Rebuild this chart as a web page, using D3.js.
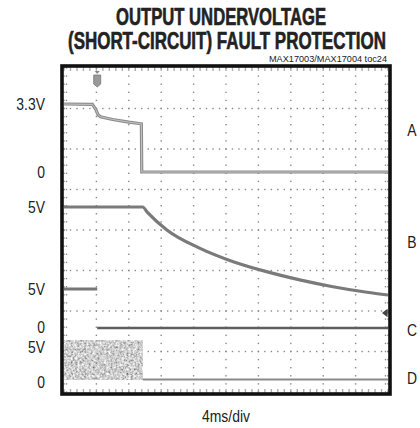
<!DOCTYPE html>
<html>
<head>
<meta charset="utf-8">
<script src="https://cdn.jsdelivr.net/npm/d3@7"></script>
<style>
  body { margin: 0; background: #fff; }
  text { font-family: "Liberation Sans", Arial, sans-serif; fill: #222; }
</style>
</head>
<body>
<svg id="chart"></svg>
<script>
// scope capture, time in ms (4ms/div, 10 div)
var timeA = [0, 3.5, 3.9, 4.2, 4.5, 6, 8, 9.55, 9.6, 40];
var voltA = [3.3, 3.28, 3.05, 2.78, 2.68, 2.55, 2.42, 2.34, 0, 0];

var timeB = [0, 9.7, 10.3, 12.7, 16.8, 20.9, 25.0, 29.1, 33.2, 37.4, 40];
var voltB = [5, 5, 4.75, 3.92, 3.05, 2.42, 1.95, 1.56, 1.24, 0.98, 0.85];

var timeC = [0, 4.1, 4.1, 40];
var voltC = [5, 5, 0, 0];

// D: switching node, a dense band 0..5V until shutdown
var timeDBand = [0, 9.75];
var voltDBand = [0, 5];
var timeD = [9.75, 40];
var voltD = [0.05, 0.05];

// labels sit a little off the exact trace levels in the original
var leftLabels = [
  {ch: "A", v: 3.3, text: "3.3V"}, {ch: "A", v: 0, text: "0"},
  {ch: "B", v: 5, text: "5V"},
  {ch: "C", v: 5, text: "5V"}, {ch: "C", v: 0.2, text: "0"},
  {ch: "D", v: 4.2, text: "5V"}, {ch: "D", v: -0.2, text: "0"}
];
var channels = ["A", "B", "C", "D"];

var W = 420, H = 428;
var plot = {left: 64, right: 388, top: 68, bottom: 392};

var svg = d3.select("#chart").attr("width", W).attr("height", H);

var x = d3.scaleLinear().domain([0, 40]).range([plot.left, plot.right]);
var xDiv = d3.scaleLinear().domain([0, 10]).range([plot.left, plot.right]);
var yDiv = d3.scaleLinear().domain([0, 8]).range([plot.top, plot.bottom]);

// one vertical scale per channel
var yCh = {
  A: d3.scaleLinear().domain([0, 3.3]).range([172, 104]),
  B: d3.scaleLinear().domain([0, 5]).range([313, 207]),
  C: d3.scaleLinear().domain([0, 5]).range([328, 289]),
  D: d3.scaleLinear().domain([0, 5]).range([380, 340])
};

var defs = svg.append("defs");
var f = defs.append("filter").attr("id", "speckle")
    .attr("x", 0).attr("y", 0).attr("width", 1).attr("height", 1);
f.append("feTurbulence").attr("type", "fractalNoise").attr("baseFrequency", 0.45)
    .attr("numOctaves", 2).attr("seed", 5).attr("result", "n");
f.append("feColorMatrix").attr("in", "n").attr("type", "saturate").attr("values", 0).attr("result", "g");
var ct = f.append("feComponentTransfer").attr("in", "g").attr("result", "c");
["feFuncR", "feFuncG", "feFuncB"].forEach(function(k) {
  ct.append(k).attr("type", "linear").attr("slope", 1.6).attr("intercept", -0.18);
});
ct.append("feFuncA").attr("type", "linear").attr("slope", 0).attr("intercept", 1);
f.append("feComposite").attr("in", "c").attr("in2", "SourceGraphic").attr("operator", "in");

// condensed look: squeeze regular font horizontally
function narrowText(sel, px, py, size, anchor, str, sx) {
  return sel.append("text")
      .attr("transform", "translate(" + px + "," + py + ") scale(" + (sx || 0.82) + ",1)")
      .attr("dy", "0.36em").attr("text-anchor", anchor)
      .style("font-size", size + "px").text(str);
}

// title
svg.append("text").attr("x", 221).attr("y", 25).attr("text-anchor", "middle")
    .style("font-weight", "bold").style("font-size", "23px")
    .style("stroke", "#222").style("stroke-width", 0.6)
    .attr("textLength", 210).attr("lengthAdjust", "spacingAndGlyphs")
    .text("OUTPUT UNDERVOLTAGE");
svg.append("text").attr("x", 227).attr("y", 49).attr("text-anchor", "middle")
    .style("font-weight", "bold").style("font-size", "23px")
    .style("stroke", "#222").style("stroke-width", 0.6)
    .attr("textLength", 318).attr("lengthAdjust", "spacingAndGlyphs")
    .text("(SHORT-CIRCUIT) FAULT PROTECTION");
svg.append("text").attr("x", 387).attr("y", 62).attr("text-anchor", "end")
    .style("font-size", "9.5px").attr("textLength", 118).attr("lengthAdjust", "spacingAndGlyphs")
    .text("MAX17003/MAX17004 toc24");

// graticule dots
var grid = svg.append("g").attr("fill", "#8a8a8a");
var dots = [];
d3.range(0, 9).forEach(function(j) {
  d3.range(0, 51).forEach(function(k) { dots.push([xDiv(k / 5), yDiv(j)]); });
});
d3.range(0, 11).forEach(function(i) {
  d3.range(0, 41).forEach(function(k) { dots.push([xDiv(i), yDiv(k / 5)]); });
});
// edge ticks just inside the frame
d3.range(0, 51).forEach(function(k) {
  dots.push([xDiv(k / 5), plot.top + 2]);
  dots.push([xDiv(k / 5), plot.bottom - 2]);
});
d3.range(0, 41).forEach(function(k) {
  dots.push([plot.left + 2.5, yDiv(k / 5)]);
  dots.push([plot.right - 2.5, yDiv(k / 5)]);
});
grid.selectAll("rect").data(dots).enter().append("rect")
    .attr("x", function(d) { return d[0] - 0.7; }).attr("y", function(d) { return d[1] - 0.7; })
    .attr("width", 1.4).attr("height", 1.4);

function zip(t, v) { return t.map(function(d, i) { return [d, v[i]]; }); }
function line(ch) {
  return d3.line().x(function(d) { return x(d[0]); }).y(function(d) { return yCh[ch](d[1]); });
}

// D band
svg.append("rect")
    .attr("x", x(timeDBand[0])).attr("y", yCh.D(voltDBand[1]))
    .attr("width", x(timeDBand[1]) - x(timeDBand[0]))
    .attr("height", yCh.D(voltDBand[0]) - yCh.D(voltDBand[1]))
    .attr("fill", "#999").attr("filter", "url(#speckle)");

svg.append("path").datum(zip(timeD, voltD)).attr("d", line("D"))
    .attr("fill", "none").attr("stroke", "#8a8a8a").attr("stroke-width", 2);
svg.append("path").datum(zip(timeC.slice(0, 2), voltC.slice(0, 2))).attr("d", line("C"))
    .attr("fill", "none").attr("stroke", "#777").attr("stroke-width", 3);
svg.append("path").datum(zip(timeC.slice(2), voltC.slice(2))).attr("d", line("C"))
    .attr("fill", "none").attr("stroke", "#5e5e5e").attr("stroke-width", 2.5);
svg.append("path").datum(zip(timeB, voltB)).attr("d", line("B").curve(d3.curveMonotoneX))
    .attr("fill", "none").attr("stroke", "#7a7a7a").attr("stroke-width", 3.2);
svg.append("path").datum(zip(timeA, voltA)).attr("d", line("A"))
    .attr("fill", "none").attr("stroke", "#8c8c8c").attr("stroke-width", 3.2);
svg.append("path").datum(zip(timeA, voltA)).attr("d", line("A"))
    .attr("fill", "none").attr("stroke", "#c4c4c4").attr("stroke-width", 1);

// trigger marker
var tx = x(4.1);
svg.append("path")
    .attr("d", "M" + (tx - 2.5) + ",71 L" + (tx + 2.5) + ",71 L" + tx + ",74 Z")
    .attr("fill", "#888");
svg.append("path")
    .attr("d", "M" + (tx - 3.5) + ",75 L" + (tx + 3.5) + ",75 L" + (tx + 3.5) + ",84 L" + tx + ",87 L" + (tx - 3.5) + ",84 Z")
    .attr("fill", "#999").attr("stroke", "#777").attr("stroke-width", 0.8);

// right-edge ground arrow
svg.append("path")
    .attr("d", "M" + (plot.right - 5) + "," + yCh.B(0) + " l4,-3 l0,6 Z M" + (plot.right - 2) + "," + yCh.B(0) + " l3,0")
    .attr("fill", "#444").attr("stroke", "#444").attr("stroke-width", 1.2);

// frame
svg.append("rect").attr("x", 62).attr("y", 66).attr("width", 328).attr("height", 328)
    .attr("fill", "none").attr("stroke", "#111").attr("stroke-width", 3.6);

// left voltage labels
leftLabels.forEach(function(d) {
  narrowText(svg, 45, yCh[d.ch](d.v), 17, "end", d.text);
});

// channel letters
var letterDiv = {A: 1.52, B: 4.3, C: 6.47, D: 7.65};
channels.forEach(function(c) {
  narrowText(svg, 412, yDiv(letterDiv[c]), 17, "middle", c);
});

narrowText(svg, 226, 416, 17, "middle", "4ms/div");
</script>
</body>
</html>
